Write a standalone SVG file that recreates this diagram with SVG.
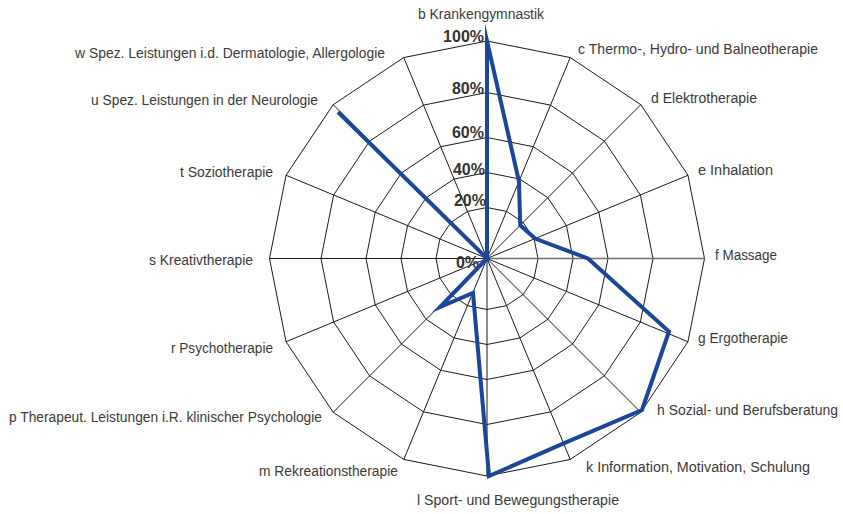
<svg xmlns="http://www.w3.org/2000/svg" width="843" height="514" viewBox="0 0 843 514">
<style>
.ring{fill:none;stroke:#1a1a1a;stroke-width:1}
.spoke{stroke:#1a1a1a;stroke-width:1}
.lbl{font-family:"Liberation Sans",Arial,sans-serif;font-size:14px;fill:#3a3a3a}
.pct{font-family:"Liberation Sans",Arial,sans-serif;font-size:16px;font-weight:bold;fill:#333;text-anchor:end}
.data{fill:none;stroke:#1b479b;stroke-width:4;stroke-linejoin:miter;stroke-miterlimit:10}
</style>
<rect width="843" height="514" fill="#fff"/>
<g id="grid">
<polygon class="ring" points="487,41 570.23,57.56 640.8,104.7 687.94,175.27 704.5,258.5 687.94,341.73 640.8,412.3 570.23,459.44 487,476 403.77,459.44 333.2,412.3 286.06,341.73 269.5,258.5 286.06,175.27 333.2,104.7 403.77,57.56"/>
<polygon class="ring" points="487,92.5 550.53,105.14 604.38,141.12 640.36,194.97 653,258.5 640.36,322.03 604.38,375.88 550.53,411.86 487,424.5 423.47,411.86 369.62,375.88 333.64,322.03 321,258.5 333.64,194.97 369.62,141.12 423.47,105.14"/>
<polygon class="ring" points="487,137.5 533.3,146.71 572.56,172.94 598.79,212.2 608,258.5 598.79,304.8 572.56,344.06 533.3,370.29 487,379.5 440.7,370.29 401.44,344.06 375.21,304.8 366,258.5 375.21,212.2 401.44,172.94 440.7,146.71"/>
<polygon class="ring" points="487,172.5 519.91,179.05 547.81,197.69 566.45,225.59 573,258.5 566.45,291.41 547.81,319.31 519.91,337.95 487,344.5 454.09,337.95 426.19,319.31 407.55,291.41 401,258.5 407.55,225.59 426.19,197.69 454.09,179.05"/>
<polygon class="ring" points="487,207.5 506.52,211.38 523.06,222.44 534.12,238.98 538,258.5 534.12,278.02 523.06,294.56 506.52,305.62 487,309.5 467.48,305.62 450.94,294.56 439.88,278.02 436,258.5 439.88,238.98 450.94,222.44 467.48,211.38"/>
<line class="spoke" x1="487" y1="41" x2="487" y2="476"/>
<line class="spoke" x1="570.23" y1="57.56" x2="403.77" y2="459.44"/>
<line class="spoke" x1="640.8" y1="104.7" x2="333.2" y2="412.3"/>
<line class="spoke" x1="687.94" y1="175.27" x2="286.06" y2="341.73"/>
<line class="spoke" x1="269.5" y1="258.5" x2="487" y2="258.5"/>
<line x1="487" y1="258.5" x2="704.5" y2="258.5" stroke="#6e6e6e" stroke-width="1.6"/>
<line class="spoke" x1="687.94" y1="341.73" x2="286.06" y2="175.27"/>
<line class="spoke" x1="640.8" y1="412.3" x2="333.2" y2="104.7"/>
<line class="spoke" x1="570.23" y1="459.44" x2="403.77" y2="57.56"/>
</g>
<g id="scale">
<text class="pct" x="484" y="42">100%</text>
<text class="pct" x="484" y="94">80%</text>
<text class="pct" x="484" y="138">60%</text>
<text class="pct" x="485" y="175">40%</text>
<text class="pct" x="486" y="206">20%</text>
<text class="pct" x="479" y="268">0%</text>
</g>
<g id="labels">
<g id="axis-b"><text class="lbl" x="418" y="19" textLength="126" lengthAdjust="spacingAndGlyphs">b Krankengymnastik</text></g>
<g id="axis-c"><text class="lbl" x="578" y="54" textLength="240" lengthAdjust="spacingAndGlyphs">c Thermo-, Hydro- und Balneotherapie</text></g>
<g id="axis-d"><text class="lbl" x="651" y="103" textLength="106" lengthAdjust="spacingAndGlyphs">d Elektrotherapie</text></g>
<g id="axis-e"><text class="lbl" x="698" y="175" textLength="75" lengthAdjust="spacingAndGlyphs">e Inhalation</text></g>
<g id="axis-f"><text class="lbl" x="715" y="260" textLength="62" lengthAdjust="spacingAndGlyphs">f Massage</text></g>
<g id="axis-g"><text class="lbl" x="698" y="343" textLength="90" lengthAdjust="spacingAndGlyphs">g Ergotherapie</text></g>
<g id="axis-h"><text class="lbl" x="657" y="415" textLength="181" lengthAdjust="spacingAndGlyphs">h Sozial- und Berufsberatung</text></g>
<g id="axis-k"><text class="lbl" x="586" y="472" textLength="224" lengthAdjust="spacingAndGlyphs">k Information, Motivation, Schulung</text></g>
<g id="axis-l"><text class="lbl" x="417" y="505" textLength="202" lengthAdjust="spacingAndGlyphs">l Sport- und Bewegungstherapie</text></g>
<g id="axis-m"><text class="lbl" x="259" y="476" textLength="139" lengthAdjust="spacingAndGlyphs">m Rekreationstherapie</text></g>
<g id="axis-p"><text class="lbl" x="9" y="422" textLength="313" lengthAdjust="spacingAndGlyphs">p Therapeut. Leistungen i.R. klinischer Psychologie</text></g>
<g id="axis-r"><text class="lbl" x="171" y="353" textLength="102" lengthAdjust="spacingAndGlyphs">r Psychotherapie</text></g>
<g id="axis-s"><text class="lbl" x="149" y="265" textLength="104" lengthAdjust="spacingAndGlyphs">s Kreativtherapie</text></g>
<g id="axis-t"><text class="lbl" x="180" y="177" textLength="93" lengthAdjust="spacingAndGlyphs">t Soziotherapie</text></g>
<g id="axis-u"><text class="lbl" x="91" y="105" textLength="227" lengthAdjust="spacingAndGlyphs">u Spez. Leistungen in der Neurologie</text></g>
<g id="axis-w"><text class="lbl" x="75" y="58" textLength="310" lengthAdjust="spacingAndGlyphs">w Spez. Leistungen i.d. Dermatologie, Allergologie</text></g>
</g>
<g id="series">
<polygon class="data" points="487,41 518.95,181.36 520.23,225.27 535.04,238.6 588,258.5 669,331.5 642,410 563.6,443.4 489,476 473,293 440,307 487,258.5 487,258.5 487,258.5 338,112 487,258.5"/>
</g>
</svg>
